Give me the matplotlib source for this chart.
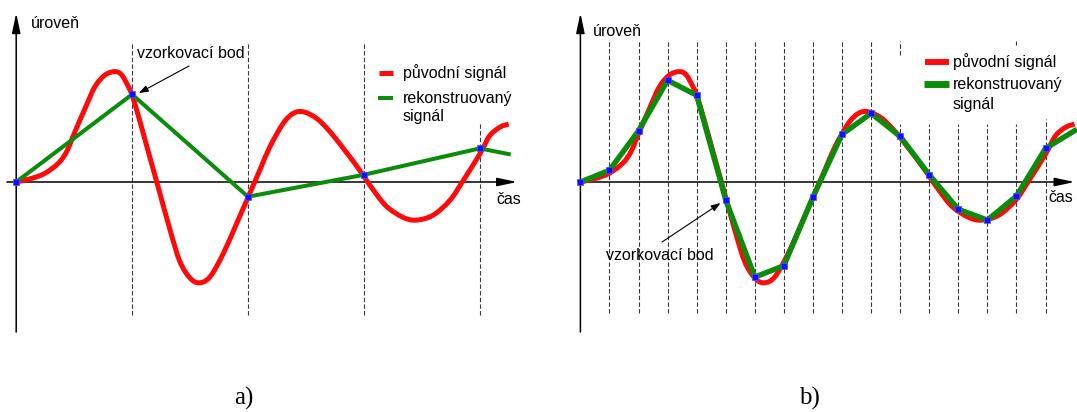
import matplotlib.pyplot as plt
from matplotlib.path import Path
from matplotlib.patches import PathPatch

W, H = 1077, 412

# original signal (time in sample steps, level in arbitrary units)
signal_t = [0.0, 0.53, 0.99, 1.45, 1.74, 2.03, 2.38, 2.72, 3.07, 3.41, 3.64, 3.87,
            3.99, 4.21, 4.56, 4.91, 5.31, 5.65, 6.0, 6.32, 6.69, 7.15, 7.61, 8.07,
            8.42, 8.76, 9.22, 9.57, 9.91, 10.37, 10.83, 11.29, 11.64, 11.98, 12.33,
            12.79, 13.36, 13.82, 14.40, 14.98, 15.43, 15.87, 16.10, 16.35, 16.70, 17.0]
signal_v = [0.0, 0.12, 0.29, 0.62, 1.01, 1.68, 2.46, 3.18, 3.57, 3.68, 3.57, 3.18,
            2.92, 2.23, 1.01, -0.20, -1.60, -2.65, -3.20, -3.36, -3.16, -2.38, -1.38, -0.36,
            0.42, 1.18, 1.96, 2.29, 2.34, 2.12, 1.68, 1.12, 0.68, 0.22, -0.27,
            -0.82, -1.18, -1.27, -1.10, -0.60, 0.05, 0.72, 1.10, 1.55, 1.83, 1.93]

# a) coarse sampling, every 4th step
samples_a_t = [0, 4, 8, 12, 16]
samples_a_v = [0.0, 2.92, -0.49, 0.24, 1.12]
recon_a_t = samples_a_t + [17]
recon_a_v = samples_a_v + [0.93]

# b) sampling at every step
samples_b_t = list(range(17))
samples_b_v = [0.0, 0.39, 1.71, 3.39, 2.89, -0.60, -3.17, -2.79, -0.50,
               1.59, 2.29, 1.52, 0.24, -0.91, -1.27, -0.47, 1.12]
recon_b_t = samples_b_t + [17]
recon_b_v = samples_b_v + [1.71]

RED = '#ff0a0a'
GREEN = '#0b8c0b'
BLUE = '#1010ff'
FONT = 'Liberation Sans'


def px(x, y):
    return x / W, 1 - y / H


def smooth_path(xs, ys):
    # Catmull-Rom through the points, written as cubic Bezier segments
    pts = list(zip(xs, ys))
    verts = [pts[0]]
    codes = [Path.MOVETO]
    n = len(pts)
    for i in range(n - 1):
        p0 = pts[max(i - 1, 0)]
        p1 = pts[i]
        p2 = pts[i + 1]
        p3 = pts[min(i + 2, n - 1)]
        c1 = (p1[0] + (p2[0] - p0[0]) / 6, p1[1] + (p2[1] - p0[1]) / 6)
        c2 = (p2[0] - (p3[0] - p1[0]) / 6, p2[1] - (p3[1] - p1[1]) / 6)
        verts += [c1, c2, p2]
        codes += [Path.CURVE4] * 3
    return Path(verts, codes)


def draw_signal(ax):
    patch = PathPatch(smooth_path(signal_t, signal_v), fill=False, edgecolor=RED,
                      lw=3.6, joinstyle='round', capstyle='butt', zorder=3)
    ax.add_patch(patch)


def dashed(ax, t, top, bottom=-4.4):
    ax.vlines(t, bottom, top, colors='#3a3a3a', linewidth=0.8,
              linestyles=(0, (4, 2)), zorder=1)


def axis_arrows(ax, x0, x_tip):
    style = dict(arrowstyle='-|>,head_length=0.8,head_width=0.17',
                 mutation_scale=15, lw=1.1, color='black',
                 shrinkA=0, shrinkB=0)
    ax.annotate('', xy=(0, 5.63), xytext=(0, -5.0), arrowprops=style, zorder=2)
    ax.annotate('', xy=(x_tip, 0), xytext=(x0, 0), arrowprops=style, zorder=2)


def main():
    fig = plt.figure(figsize=(W / 100, H / 100), dpi=100)

    ax_a = fig.add_axes([0, 0, 540 / W, 1])
    ax_b = fig.add_axes([540 / W, 0, 537 / W, 1])
    ax_a.set_xlim(-16.2 / 28.97, (540 - 16.2) / 28.97)
    ax_b.set_xlim((540 - 580.4) / 29.07, (1077 - 580.4) / 29.07)
    for ax in (ax_a, ax_b):
        ax.set_ylim(-230 / 30, 182 / 30)
        ax.axis('off')

    # --- a) ---
    for t in samples_a_t[1:4]:
        dashed(ax_a, t, 4.63, -4.43)
    dashed(ax_a, 16, 1.93, -4.43)
    axis_arrows(ax_a, -0.32, 17.29)
    draw_signal(ax_a)
    ax_a.plot(recon_a_t, recon_a_v, color=GREEN, lw=2.9, solid_joinstyle='round', zorder=4)
    ax_a.plot(samples_a_t, samples_a_v, 's', ms=3.8, mfc=BLUE, mec='#5050ff',
              mew=0.5, zorder=5)
    ax_a.annotate('', xy=(samples_a_t[1] + 0.15, samples_a_v[1] + 0.0),
                  xytext=px(189, 66), textcoords='figure fraction',
                  arrowprops=dict(arrowstyle='-|>,head_length=0.7,head_width=0.25',
                                  mutation_scale=8, lw=0.8, color='black',
                                  shrinkA=0, shrinkB=2))

    # --- b) ---
    for t in samples_b_t[1:12]:
        if t == 11:
            dashed(ax_b, t, 4.7, 4.23)
            dashed(ax_b, t, 1.93, -4.37)
        else:
            dashed(ax_b, t, 4.7, -4.37)
    for t in samples_b_t[12:16]:
        dashed(ax_b, t, 1.93, -4.37)
    dashed(ax_b, 16, 2.1, -4.37)
    dashed(ax_b, 15, 4.7, 4.57)
    axis_arrows(ax_b, 0, 17.0)
    draw_signal(ax_b)
    ax_b.plot(recon_b_t, recon_b_v, color=GREEN, lw=3.9, solid_joinstyle='round', zorder=4)
    ax_b.plot(samples_b_t, samples_b_v, 's', ms=3.8, mfc=BLUE, mec='#5050ff',
              mew=0.5, zorder=5)
    ax_b.annotate('', xy=(samples_b_t[5] - 0.1, samples_b_v[5] - 0.05),
                  xytext=px(662, 242), textcoords='figure fraction',
                  arrowprops=dict(arrowstyle='-|>,head_length=0.7,head_width=0.25',
                                  mutation_scale=8, lw=0.8, color='black',
                                  shrinkA=0, shrinkB=2))

    # labels
    fs = 11.5
    labels = [
        (31, 23, 'úroveň'), (496, 200, 'čas'), (137, 53, 'vzorkovací bod'),
        (403, 73, 'původní signál'), (403, 98, 'rekonstruovaný'), (403, 117, 'signál'),
        (593, 31, 'úroveň'), (1048, 198, 'čas'), (606, 255, 'vzorkovací bod'),
        (953, 62, 'původní signál'), (953, 84, 'rekonstruovaný'), (953, 104, 'signál'),
    ]
    for x, y, s in labels:
        fig.text(*px(x, y), s, fontsize=fs, family=FONT, ha='left', va='center')

    # legend keys
    for (x0, x1, y, c, lw) in [(379, 393, 73, RED, 3.6), (378, 393, 98, GREEN, 2.9),
                               (925, 949, 62, RED, 4.3), (924, 949, 84, GREEN, 5.0)]:
        fig.add_artist(plt.Line2D([x0 / W, x1 / W], [1 - y / H, 1 - y / H],
                                  color=c, lw=lw, solid_capstyle='butt'))

    fig.text(*px(244, 398), 'a)', fontsize=18, family='Liberation Serif',
             ha='center', va='center')
    fig.text(*px(809, 398), 'b)', fontsize=18, family='Liberation Serif',
             ha='center', va='center')

    fig.savefig('out.png', dpi=100, facecolor='white')


if __name__ == "__main__":
    main()
